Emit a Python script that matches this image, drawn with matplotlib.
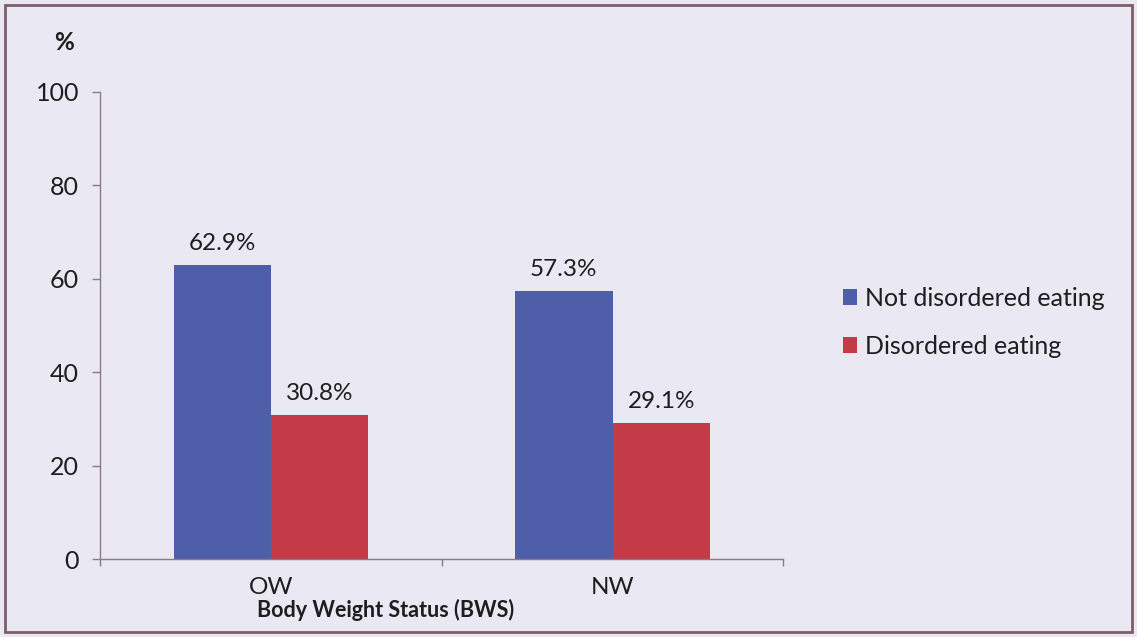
import numpy as np
import matplotlib.pyplot as plt
from matplotlib.patches import Rectangle

categories = ['OW', 'NW']
not_disordered = [62.9, 57.3]
disordered = [30.8, 29.1]
series_names = ['Not disordered eating', 'Disordered eating']

plt.rcParams['font.family'] = ['Lato', 'DejaVu Sans']

bg = '#e9e8f3'
blue = '#4f5ea8'
red = '#c23b47'
axcol = '#8c7b82'
txt = '#1e1e1e'

fig = plt.figure(figsize=(11.37, 6.37), dpi=100, facecolor=bg)
ax = fig.add_axes([0.088, 0.1224, 0.601, 0.7332])
ax.set_facecolor(bg)

x = np.arange(len(categories))
w = 0.285
b1 = ax.bar(x - w / 2, not_disordered, w, color=blue, label=series_names[0])
b2 = ax.bar(x + w / 2, disordered, w, color=red, label=series_names[1])

for bars, vals in [(b1, not_disordered), (b2, disordered)]:
    for r, v in zip(bars, vals):
        ax.annotate('%.1f%%' % v, (r.get_x() + r.get_width() / 2, v),
                    xytext=(0, 8), textcoords='offset points',
                    ha='center', va='bottom', fontsize=17.5, color=txt)

ax.set_xlim(-0.5, 1.5)
ax.set_ylim(0, 100)
ax.set_yticks(range(0, 101, 20))
ax.tick_params(axis='y', labelsize=18, colors=axcol, labelcolor=txt,
               length=6, width=1, pad=9)
ax.set_xticks([-0.5, 0.5, 1.5])
ax.set_xticklabels([])
ax.tick_params(axis='x', colors=axcol, length=5, width=1)
for xi, c in zip(x, categories):
    ax.text(xi, -3.8, c, ha='center', va='top', fontsize=17.5, color=txt)

for s in ['top', 'right']:
    ax.spines[s].set_visible(False)
for s in ['left', 'bottom']:
    ax.spines[s].set_color(axcol)
    ax.spines[s].set_linewidth(1)

ax.set_xlabel('Body Weight Status (BWS)', fontsize=15.5, fontweight='bold',
              color=txt)
ax.xaxis.set_label_coords(0.418, -0.085)

fig.text(0.056, 0.934, '%', fontsize=17.5, fontweight='bold', color=txt,
         ha='center', va='center')

leg = fig.legend(loc='center left', bbox_to_anchor=(0.722, 0.494),
                 frameon=False, fontsize=18, handlelength=0.55,
                 handleheight=0.55, handletextpad=0.3, labelspacing=1.0,
                 labelcolor=txt)

fig.patches.append(Rectangle((0.004, 0.008), 0.992, 0.984,
                             transform=fig.transFigure, fill=False,
                             edgecolor='#7d5f66', linewidth=2))

fig.savefig('out.png', dpi=100, facecolor=bg)
